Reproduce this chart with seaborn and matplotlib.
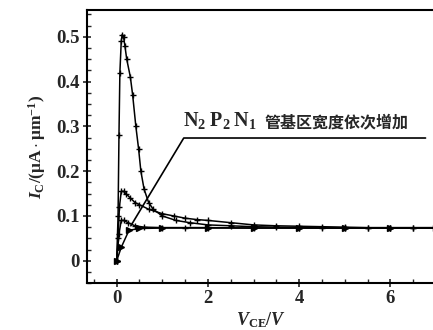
import numpy as np
import pandas as pd
import matplotlib
matplotlib.use("Agg")
import matplotlib.pyplot as plt
from matplotlib.ticker import MultipleLocator
import seaborn as sns

# four devices, base width increasing
x1 = [0, 0.03, 0.05, 0.07, 0.1, 0.12, 0.15, 0.18, 0.22, 0.3, 0.35, 0.42, 0.48, 0.53, 0.6, 0.7, 0.8, 1.0, 1.3, 1.6, 2, 2.5, 3, 3.5, 4, 4.5, 5, 5.5, 6, 6.5, 7]
y1 = [0, 0.1, 0.28, 0.42, 0.49, 0.505, 0.5, 0.48, 0.45, 0.41, 0.37, 0.3, 0.25, 0.2, 0.16, 0.13, 0.115, 0.1, 0.09, 0.085, 0.08, 0.078, 0.076, 0.075, 0.074, 0.073, 0.073, 0.073, 0.073, 0.073, 0.073]
x2 = [0, 0.03, 0.06, 0.1, 0.15, 0.2, 0.3, 0.4, 0.5, 0.7, 1.0, 1.25, 1.5, 1.75, 2, 2.5, 3, 3.5, 4, 4.5, 5, 5.5, 6, 6.5, 7]
y2 = [0, 0.05, 0.12, 0.155, 0.155, 0.15, 0.14, 0.13, 0.125, 0.115, 0.105, 0.1, 0.095, 0.092, 0.09, 0.085, 0.08, 0.078, 0.077, 0.076, 0.075, 0.074, 0.074, 0.074, 0.074]
x3 = [0, 0.05, 0.1, 0.15, 0.25, 0.4, 0.6, 1.0, 1.5, 2, 3, 4, 5, 6, 7]
y3 = [0, 0.06, 0.09, 0.09, 0.085, 0.078, 0.075, 0.074, 0.074, 0.074, 0.073, 0.073, 0.073, 0.073, 0.073]
x4 = [0, 0.1, 0.27, 0.5, 1.0, 2, 3, 4, 5, 6, 7]
y4 = [0, 0.03, 0.068, 0.072, 0.073, 0.073, 0.073, 0.073, 0.073, 0.073, 0.073]

xticks = [0, 2, 4, 6]
yticks = [0, 0.1, 0.2, 0.3, 0.4, 0.5]
ytick_labels = ["0", "0.1", "0.2", "0.3", "0.4", "0.5"]

sns.set_style("ticks")
plt.rcParams['font.family'] = ['Liberation Serif', 'Noto Sans CJK SC']
plt.rcParams['font.weight'] = 'bold'
plt.rcParams['mathtext.fontset'] = 'custom'
plt.rcParams['mathtext.rm'] = 'Liberation Serif:bold'
plt.rcParams['mathtext.bf'] = 'Liberation Serif:bold'
plt.rcParams['mathtext.it'] = 'Liberation Serif:italic:bold'

fig = plt.figure(figsize=(4.33, 3.30), dpi=100)
ax = fig.add_axes([0.201, 0.142, 0.806, 0.828])

curves = [(x1, y1, '+'), (x2, y2, '+'), (x3, y3, '+'), (x4, y4, '>')]
for xs, ys, m in curves:
    df = pd.DataFrame({'x': xs, 'y': ys})
    sns.lineplot(data=df, x='x', y='y', ax=ax, color='black', lw=1.1,
                 marker=m, markersize=5, markeredgewidth=1.0,
                 markerfacecolor='black', markeredgecolor='black')

# annotation leader line
ax.plot([0.31, 1.47, 6.77], [0.078, 0.274, 0.274], color='black', lw=1.2)
ax.text(1.45, 0.29, r"$\mathrm{N_2\;P_2\;N_1}$", fontsize=14.5, va='bottom', ha='left')
ax.text(3.25, 0.29, "管基区宽度依次增加", fontsize=11.5, va='bottom', ha='left',
        family=['Noto Sans CJK SC'], fontweight='bold')

ax.set_xlim(-0.65, 7.0)
ax.set_ylim(-0.05, 0.56)
ax.set_xticks(xticks)
ax.set_yticks(yticks)
ax.set_yticklabels(ytick_labels)
ax.xaxis.set_minor_locator(MultipleLocator(0.5))
ax.yaxis.set_minor_locator(MultipleLocator(0.025))
ax.tick_params(which='major', direction='inout', length=6, width=1.2, labelsize=13.5, pad=2)
ax.tick_params(which='minor', direction='in', length=3, width=1.0)
for s in ax.spines.values():
    s.set_linewidth(1.5)
    s.set_color('black')

ax.set_xlabel(r"$\mathit{V}_\mathrm{CE}\mathit{/V}$", fontsize=13, labelpad=2)
ax.set_ylabel(r"$\mathit{I}_\mathrm{C}\mathrm{/(\mu A\cdot\mu m^{-1})}$", fontsize=12.5, labelpad=6)

fig.savefig("out.png", dpi=100)
